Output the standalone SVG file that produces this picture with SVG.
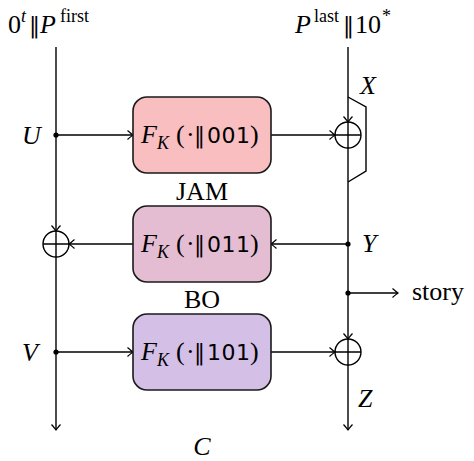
<svg xmlns="http://www.w3.org/2000/svg" width="474" height="461" viewBox="0 0 474 461">
  <style>
    .ln { fill: none; stroke: #000; stroke-width: 1.4; }
    .arr { marker-end: url(#tip); }
    .box { stroke: #1a1a1a; stroke-width: 1.6; }
    .dot { fill: #000; }
    .xor { fill: none; stroke: #000; stroke-width: 1.4; }
    text { font-family: "Liberation Serif", "DejaVu Serif", serif; fill: #000; }
    .lbl { font-size: 26px; }
    .var { font-size: 26px; font-style: italic; }
    .fn { font-size: 26px; }
    .sans { font-family: "DejaVu Sans", "Liberation Sans", sans-serif; }
    .bar { font-family: "DejaVu Serif", serif; }
  </style>
  <defs>
    <marker id="tip" markerUnits="userSpaceOnUse" markerWidth="12" markerHeight="12" viewBox="-7 -6 8 12" refX="0" refY="0" orient="auto">
      <path d="M -5.5 -4.5 Q -1.5 -1 0 0 Q -1.5 1 -5.5 4.5" fill="none" stroke="#000" stroke-width="1.2"/>
    </marker>
  </defs>

  <!-- input labels -->
  <g id="in-left">
    <text class="lbl" y="33"><tspan x="8">0</tspan><tspan x="21" font-style="italic" font-size="18" dy="-11">t</tspan><tspan x="29" dy="11" class="bar" font-size="22">‖</tspan><tspan x="40" font-style="italic">P</tspan><tspan x="60" font-size="18" dy="-11">first</tspan></text>
  </g>
  <g id="in-right">
    <text class="lbl" y="33"><tspan x="295" font-style="italic">P</tspan><tspan x="314" font-size="18" dy="-11">last</tspan><tspan x="343" dy="11" class="bar" font-size="22">‖</tspan><tspan x="355">10</tspan><tspan x="382" font-size="18" dy="-11">*</tspan></text>
  </g>

  <!-- connectors -->
  <g id="connectors">
    <line class="ln arr" x1="56" y1="47" x2="56" y2="231"/>
    <line class="ln arr" x1="56" y1="257" x2="56" y2="430"/>
    <line class="ln arr" x1="348" y1="47" x2="348" y2="122"/>
    <line class="ln arr" x1="348" y1="148" x2="348" y2="339"/>
    <line class="ln arr" x1="348" y1="365" x2="348" y2="430"/>
    <polyline class="ln" points="348,97 366,107 366,171 348,182"/>
    <line class="ln arr" x1="56" y1="135" x2="133" y2="135"/>
    <line class="ln arr" x1="271" y1="135" x2="335" y2="135"/>
    <line class="ln arr" x1="348" y1="244" x2="271" y2="244"/>
    <line class="ln arr" x1="133" y1="244" x2="69" y2="244"/>
    <line class="ln arr" x1="348" y1="293" x2="398" y2="293"/>
    <line class="ln arr" x1="56" y1="352" x2="133" y2="352"/>
    <line class="ln arr" x1="271" y1="352" x2="335" y2="352"/>
    <circle class="dot" cx="56" cy="135" r="2.6"/>
    <circle class="dot" cx="348" cy="244" r="2.6"/>
    <circle class="dot" cx="348" cy="293" r="2.6"/>
    <circle class="dot" cx="56" cy="352" r="2.6"/>
  </g>

  <!-- xor nodes -->
  <g id="xor-top">
    <circle class="xor" cx="348" cy="135" r="13"/>
    <path class="xor" d="M335 135 H361 M348 122 V148"/>
  </g>
  <g id="xor-left">
    <circle class="xor" cx="56" cy="244" r="13"/>
    <path class="xor" d="M43 244 H69 M56 231 V257"/>
  </g>
  <g id="xor-bottom">
    <circle class="xor" cx="348" cy="352" r="13"/>
    <path class="xor" d="M335 352 H361 M348 339 V365"/>
  </g>

  <!-- tweakable blocks -->
  <g id="f001">
    <rect class="box" x="133" y="97" width="138" height="76" rx="14" fill="#F8BEC0"/>
    <text class="fn" y="143"><tspan x="141" font-style="italic">F</tspan><tspan x="157" font-style="italic" font-size="18" dy="6">K</tspan><tspan x="176" dy="-6">(</tspan><tspan x="186">·</tspan><tspan x="194" class="bar" font-size="22">‖</tspan><tspan x="207" class="sans" font-size="22" letter-spacing="0.5">001</tspan><tspan x="250">)</tspan></text>
  </g>
  <g id="f011">
    <rect class="box" x="133" y="206" width="138" height="76" rx="14" fill="#E5BDD3"/>
    <text class="fn" y="252"><tspan x="141" font-style="italic">F</tspan><tspan x="157" font-style="italic" font-size="18" dy="6">K</tspan><tspan x="176" dy="-6">(</tspan><tspan x="186">·</tspan><tspan x="194" class="bar" font-size="22">‖</tspan><tspan x="207" class="sans" font-size="22" letter-spacing="0.5">011</tspan><tspan x="250">)</tspan></text>
  </g>
  <g id="f101">
    <rect class="box" x="133" y="314" width="138" height="76" rx="14" fill="#D4BFE7"/>
    <text class="fn" y="360"><tspan x="141" font-style="italic">F</tspan><tspan x="157" font-style="italic" font-size="18" dy="6">K</tspan><tspan x="176" dy="-6">(</tspan><tspan x="186">·</tspan><tspan x="194" class="bar" font-size="22">‖</tspan><tspan x="207" class="sans" font-size="22" letter-spacing="0.5">101</tspan><tspan x="250">)</tspan></text>
  </g>

  <!-- labels -->
  <g id="labels">
    <text class="lbl" x="202" y="200" text-anchor="middle">JAM</text>
    <text class="lbl" x="202" y="308" text-anchor="middle">BO</text>
    <text class="var" x="202" y="455" text-anchor="middle">C</text>
    <text class="var" x="22" y="144">U</text>
    <text class="var" x="22" y="361">V</text>
    <text class="var" x="360" y="94">X</text>
    <text class="var" x="362" y="252">Y</text>
    <text class="var" x="358" y="407">Z</text>
    <text class="lbl" x="412" y="300">story</text>
  </g>
</svg>
